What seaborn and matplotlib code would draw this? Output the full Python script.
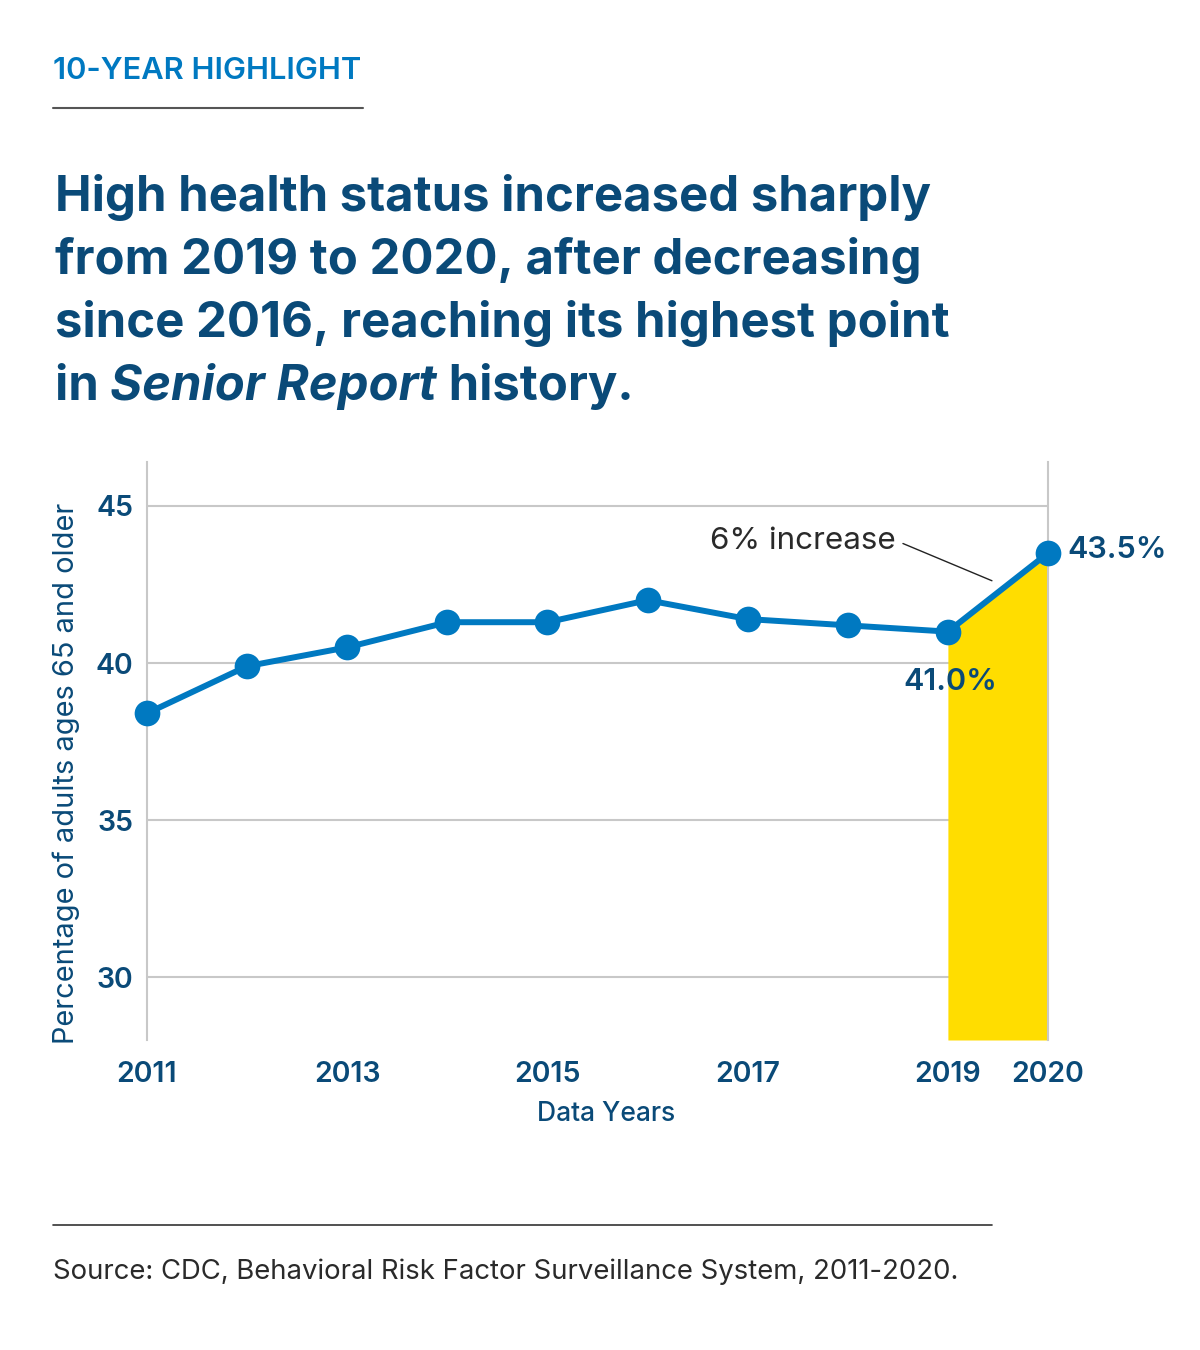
import matplotlib
matplotlib.use("Agg")
import matplotlib.pyplot as plt
import seaborn as sns
import pandas as pd

# data
years = [2011, 2012, 2013, 2014, 2015, 2016, 2017, 2018, 2019, 2020]
pct = [38.4, 39.9, 40.5, 41.3, 41.3, 42.0, 41.4, 41.2, 41.0, 43.5]
tick_years = [2011, 2013, 2015, 2017, 2019, 2020]
y_ticks = [30, 35, 40, 45]
hl_years = [2019, 2020]
hl_pct = [41.0, 43.5]

NAVY = "#0a4a78"
BLUE = "#0079c1"
YELLOW = "#ffdd00"
GRID = "#c8c8c8"

sns.set_theme(style="whitegrid")
plt.rcParams["font.family"] = ["Inter", "DejaVu Sans"]

df = pd.DataFrame({"year": years, "pct": pct})

W, H = 1200, 1350
fig = plt.figure(figsize=(12, 13.5), dpi=100)


def fx(x):
    return x / W


def fy(y):
    return 1 - y / H


ax = fig.add_axes([fx(147), fy(1040), fx(1048) - fx(147), fy(462) - fy(1040)])

# yellow highlight under 2019-2020 segment
ax.fill_between(hl_years, hl_pct, 28.0, color=YELLOW, lw=0, zorder=1)

sns.lineplot(data=df, x="year", y="pct", ax=ax, color=BLUE, lw=4.3,
             marker="o", markersize=18.5, markeredgewidth=0, zorder=5, clip_on=False)

ax.set_xlim(2011, 2020)
ax.set_ylim(28.0, 46.4)
ax.set_xticks(tick_years)
ax.set_xticklabels([str(t) for t in tick_years])
ax.set_yticks(y_ticks)
ax.grid(axis="x", visible=False)
ax.grid(axis="y", color=GRID, lw=1.5)
ax.set_facecolor("white")
for s in ["top", "bottom"]:
    ax.spines[s].set_visible(False)
for s in ["left", "right"]:
    ax.spines[s].set_visible(True)
    ax.spines[s].set_color(GRID)
    ax.spines[s].set_linewidth(1.5)
ax.tick_params(axis="both", length=0, labelsize=20.5, labelcolor=NAVY)
ax.tick_params(axis="y", pad=10)
ax.tick_params(axis="x", pad=15)
for lab in ax.get_xticklabels() + ax.get_yticklabels():
    lab.set_fontweight("semibold")

ax.set_xlabel("Data Years", fontsize=19, color=NAVY, fontweight="medium")
ax.xaxis.set_label_coords(0.51, -0.106)
ax.set_ylabel("Percentage of adults ages 65 and older", fontsize=20.9, color=NAVY)
ax.yaxis.set_label_coords(-0.074, 0.462)

# value labels
ax.annotate("43.5%", xy=(2020, 43.5), xytext=(14, 2), textcoords="offset points",
            ha="left", va="center", fontsize=22, fontweight="semibold", color=NAVY)
ax.annotate("41.0%", xy=(2019, 41.0), xytext=(2, -36), textcoords="offset points",
            ha="center", va="center", fontsize=22, fontweight="semibold", color=NAVY)
ax.annotate("6% increase", xy=(2019.44, 42.62), xytext=(2018.48, 43.9),
            ha="right", va="center", fontsize=22.6, color="#2a2a2a",
            arrowprops=dict(arrowstyle="-", lw=1, color="#222222",
                            relpos=(1, 0.5), shrinkA=3, shrinkB=0))

# header
fig.text(fx(53), fy(71), "10-YEAR HIGHLIGHT", fontsize=22.2, fontweight="semibold",
         color=BLUE, va="center", ha="left")
fig.add_artist(plt.Line2D([fx(53), fx(363)], [fy(108), fy(108)], color="#555555", lw=1.5))

TS = 35.3
BASE = 211
title_lines = ["High health status increased sharply",
               "from 2019 to 2020, after decreasing",
               "since 2016, reaching its highest point"]
for i, line in enumerate(title_lines):
    fig.text(fx(55), fy(BASE + 63 * i), line, fontsize=TS, fontweight="bold",
             color=NAVY, va="baseline", ha="left")

t1 = fig.text(fx(55), fy(BASE + 63 * 3), "in ", fontsize=TS, fontweight="bold",
              color=NAVY, va="baseline", ha="left")
t2 = fig.text(0, 0, "Senior Report", fontsize=TS, fontweight="bold", style="italic",
              color=NAVY)
t3 = fig.text(0, 0, " history.", fontsize=TS, fontweight="bold", color=NAVY)
fig.canvas.draw()
r = fig.canvas.get_renderer()
bb1 = t1.get_window_extent(r)
t2.set_position((bb1.x1 / W, fy(BASE + 63 * 3)))
t2.set_va("baseline")
fig.canvas.draw()
bb2 = t2.get_window_extent(r)
t3.set_position((bb2.x1 / W, fy(BASE + 63 * 3)))
t3.set_va("baseline")

# footer
fig.add_artist(plt.Line2D([fx(53), fx(992)], [fy(1225), fy(1225)], color="#333333", lw=1.2))
fig.text(fx(53), fy(1272), "Source: CDC, Behavioral Risk Factor Surveillance System, 2011-2020.",
         fontsize=19.8, color="#2a2a2a", va="center", ha="left")

fig.savefig("out.png", dpi=100, facecolor="white")
